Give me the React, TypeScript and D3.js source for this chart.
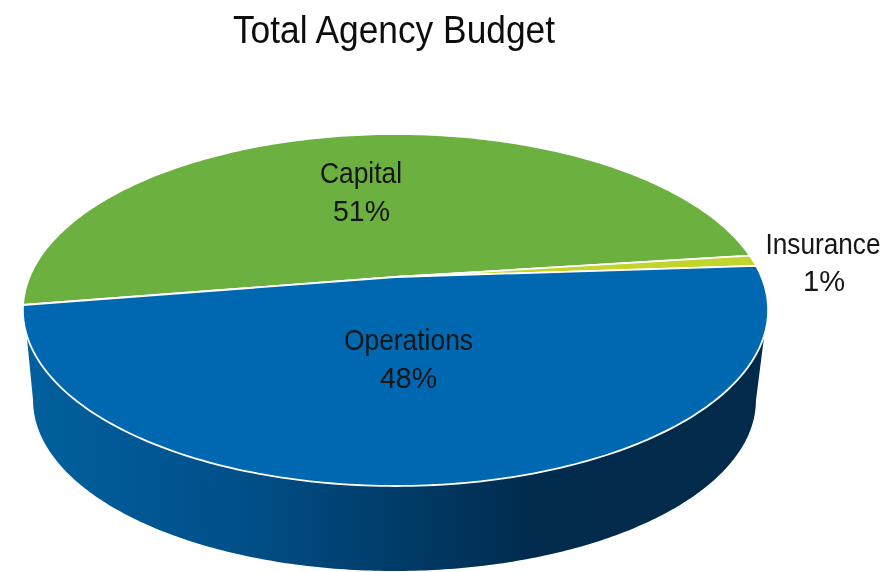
import React from "react";
import * as d3 from "d3";

const W = 894;
const H = 572;
const title = "Total Agency Budget";
const categories = ["Capital", "Insurance", "Operations"];
const values = [50.5, 1.0, 48.5];
const shownPercent = ["51%", "1%", "48%"];
const colors = ["#6CB03F", "#C2D52C", "#0068B0"];
const FONT = "'Liberation Sans', Arial, sans-serif";

const labelLayout = [
  { x1: 361, x2: 361.5, y1: 183, y2: 221, sx1: 0.88, sx2: 0.95 },
  { x1: 823, x2: 824, y1: 254, y2: 291, sx1: 0.873, sx2: 0.97 },
  { x1: 408.5, x2: 408.5, y1: 349.5, y2: 388, sx1: 0.879, sx2: 0.95 },
];

const toRad = (d: number) => (d * Math.PI) / 180;
const K = 0.1875;

function projector(px: number, py: number, B: number, A: number) {
  return (a: number): [number, number] => {
    const u = Math.sin(a);
    const v = Math.cos(a);
    const w = 1 + K * v;
    return [px + (B * u) / w, py - (A * v) / w];
  };
}

const topRim = projector(395.5, 277, 366, 169.8);
const bottomRim = projector(394.5, 368.3, 355, 164.7);
const apex: [number, number] = [395.5, 277];

const START = toRad(260.8);
const pie = d3
  .pie<number>()
  .sort(null)
  .value((d) => d)
  .startAngle(START)
  .endAngle(START + 2 * Math.PI);
const arcs = pie(values);

const line = d3.line<[number, number]>();

function slicePath(a0: number, a1: number) {
  const n = Math.max(4, Math.ceil(((a1 - a0) / (2 * Math.PI)) * 360));
  const pts: [number, number][] = [apex];
  for (let i = 0; i <= n; i++) pts.push(topRim(a0 + ((a1 - a0) * i) / n));
  return line(pts) + "Z";
}

function wallPath() {
  // top rim front arc, right to left; bottom rim front arc, left to right
  const topFrom = Math.PI - Math.acos(0.321);
  const topTo = Math.PI + Math.acos(0.321);
  const botFrom = Math.PI + Math.acos(0.19);
  const botTo = Math.PI - Math.acos(0.19);
  const pts: [number, number][] = [];
  const n = 240;
  for (let i = 0; i <= n; i++) pts.push(topRim(topFrom + ((topTo - topFrom) * i) / n));
  for (let i = 0; i <= n; i++) pts.push(bottomRim(botFrom + ((botTo - botFrom) * i) / n));
  return line(pts) + "Z";
}

const wallStops = [
  { o: 0, c: "#01609E" },
  { o: 0.28, c: "#00508A" },
  { o: 0.5, c: "#003C69" },
  { o: 0.68, c: "#012B4D" },
  { o: 1, c: "#022A4A" },
];

export default function App() {
  return (
    <svg
      width={W}
      height={H}
      viewBox={`0 0 ${W} ${H}`}
      style={{ position: "absolute", left: 0, top: 0, background: "#fff" }}
    >
      <defs>
        <linearGradient id="wall" gradientUnits="userSpaceOnUse" x1={25} x2={768} y1={0} y2={0}>
          {wallStops.map((s) => (
            <stop key={s.o} offset={s.o} stopColor={s.c} />
          ))}
        </linearGradient>
        <filter id="soft" filterUnits="userSpaceOnUse" x={0} y={0} width={W} height={H}>
          <feGaussianBlur stdDeviation="0.4" />
        </filter>
      </defs>
      <g filter="url(#soft)">
        <text
          transform="translate(394,43) scale(0.906,1)"
          textAnchor="middle"
          fontFamily={FONT}
          fontSize={39}
          fill="#111"
        >
          {title}
        </text>
      </g>
      <path d={wallPath()} fill="url(#wall)" />
      {arcs.map((a, i) => (
        <path
          key={categories[i]}
          d={slicePath(a.startAngle, a.endAngle)}
          fill={colors[i]}
          stroke="#fff"
          strokeWidth={1.8}
          strokeLinejoin="round"
        />
      ))}
      {categories.map((c, i) => {
        const l = labelLayout[i];
        return (
          <g key={c} fontFamily={FONT} fontSize={30} fill="#141414" textAnchor="middle" filter="url(#soft)">
            <text transform={`translate(${l.x1},${l.y1}) scale(${l.sx1},1)`}>{c}</text>
            <text transform={`translate(${l.x2},${l.y2}) scale(${l.sx2},1)`}>{shownPercent[i]}</text>
          </g>
        );
      })}
    </svg>
  );
}
